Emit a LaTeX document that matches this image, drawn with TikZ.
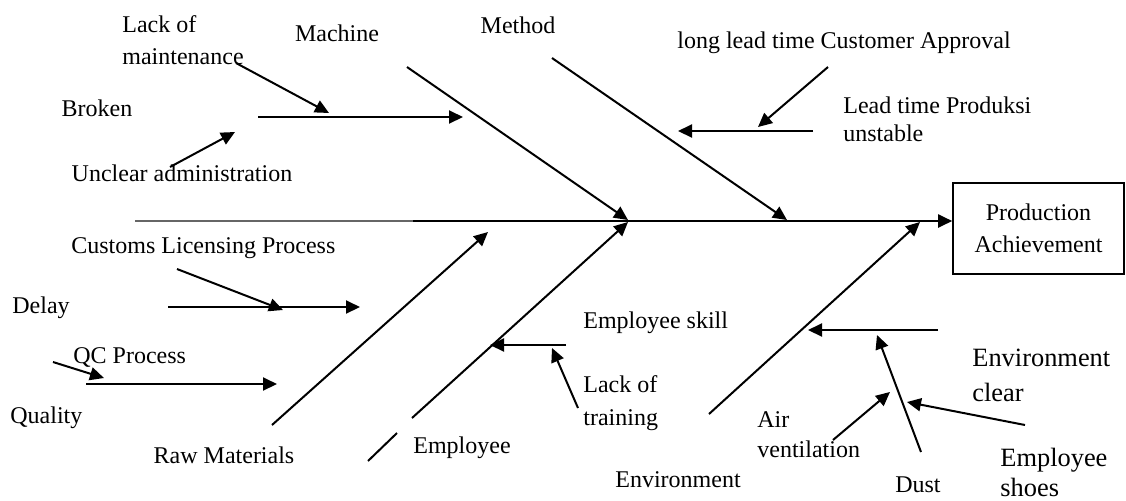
\documentclass[tikz,border=0pt]{standalone}
\usepackage{fontspec}
\setmainfont{Liberation Serif}
\usetikzlibrary{arrows.meta}
\begin{document}
\begin{tikzpicture}[x=0.5pt,y=-0.5pt,
  bone/.style={line width=1pt},
  arr/.style={line width=1pt,-{Triangle[length=7pt,width=6.5pt]}},
  lbl/.style={inner sep=0pt,font=\fontsize{12}{16}\selectfont,align=left},
  big/.style={inner sep=0pt,font=\fontsize{13.2}{17}\selectfont,align=left}]
\useasboundingbox (0,0) rectangle (1126,500);

% effect box
\node[draw,line width=0.8pt,minimum width=85.5pt,minimum height=45.5pt,inner sep=0pt,
      font=\fontsize{12}{16}\selectfont,align=center] (box) at (1038.5,228.5) {Production\\Achievement};

% labels
\node[lbl,anchor=west] (lom) at (122,40) {Lack of\\maintenance};
\node[lbl] (machine) at (337,33) {Machine};
\node[lbl] (broken) at (97,108) {Broken};
\node[lbl] (unclear) at (182,173) {Unclear administration};
\node[lbl] (method) at (518,25) {Method};
\node[lbl,anchor=west] (longlead) at (677,43) {long lead time Customer Approval};
\node[lbl,anchor=west,font=\fontsize{12}{14}\selectfont] (leadprod) at (843,119) {Lead time Produksi\\unstable};
\node[lbl,anchor=west] (customs) at (71,248) {Customs Licensing Process};
\node[lbl,anchor=west] (delay) at (12,308) {Delay};
\node[lbl,anchor=west] (qc) at (73,357) {QC Process};
\node[lbl,anchor=west] (quality) at (10,418) {Quality};
\node[lbl] (raw) at (224,455) {Raw Materials};
\node[lbl] (employee) at (462,448) {Employee};
\node[lbl,anchor=west] (empskill) at (583,323) {Employee skill};
\node[lbl,anchor=west,font=\fontsize{12}{16.5}\selectfont] (training) at (583,403.5) {Lack of\\training};
\node[lbl,anchor=west] (envlbl) at (615,480) {Environment};
\node[lbl,anchor=west,font=\fontsize{12}{15}\selectfont] (air) at (757,435) {Air\\ventilation};
\node[lbl] (dust) at (918,485) {Dust};
\node[big,anchor=west,font=\fontsize{13.2}{17.5}\selectfont] (envclear) at (972,375.5) {Environment\\clear};
\node[big,anchor=west,font=\fontsize{13.2}{15}\selectfont] (shoes) at (1000,472) {Employee\\shoes};

% spine
\coordinate (spA) at (135,221);
\coordinate (spB) at (425,221);
\coordinate (spC) at (413,221);
\draw[line width=0.6pt,gray!80!black] (spA) -- (spB);
\draw[arr] (spC) -- (spC -| box.west);

% main bones
\coordinate (mach0) at (407,67);   \coordinate (mach1) at (628,220);
\coordinate (meth0) at (552,58);   \coordinate (meth1) at (787,220);
\coordinate (raw0) at (272,425);   \coordinate (raw1) at (488,232);
\coordinate (emp0) at (368,461);   \coordinate (empg) at (397,433);
\coordinate (emp1) at (412,418);   \coordinate (emp2) at (628,222);
\coordinate (env0) at (709,414);   \coordinate (env1) at (920,222);
\draw[arr] (mach0) -- (mach1);
\draw[arr] (meth0) -- (meth1);
\draw[arr] (raw0) -- (raw1);
\draw[bone] (emp0) -- (empg);
\draw[arr] (emp1) -- (emp2);
\draw[arr] (env0) -- (env1);

% machine sub-causes
\coordinate (ms0) at (258,117); \coordinate (ms1) at (463,117);
\draw[arr] (ms0) -- (ms1);
\coordinate (lm0) at (236,63); \coordinate (lm1) at (329,113);
\draw[arr] (lm0) -- (lm1);
\coordinate (ua0) at (170,167); \coordinate (ua1) at (235,132);
\draw[arr] (ua0) -- (ua1);

% method sub-causes
\coordinate (mt0) at (813,131); \coordinate (mt1) at (678,131);
\draw[arr] (mt0) -- (mt1);
\coordinate (ll0) at (828,67); \coordinate (ll1) at (758,127);
\draw[arr] (ll0) -- (ll1);

% raw materials sub-causes
\coordinate (dl0) at (168,307); \coordinate (dl1) at (360,307);
\draw[arr] (dl0) -- (dl1);
\coordinate (cu0) at (177,269); \coordinate (cu1) at (283,310);
\draw[arr] (cu0) -- (cu1);
\coordinate (ql0) at (86,384); \coordinate (ql1) at (277,384);
\draw[arr] (ql0) -- (ql1);
\coordinate (qc0) at (53,362); \coordinate (qc1) at (104,378);
\draw[arr] (qc0) -- (qc1);

% employee sub-causes
\coordinate (es0) at (566,345); \coordinate (es1) at (490,345);
\draw[arr] (es0) -- (es1);
\coordinate (lt0) at (578,408); \coordinate (lt1) at (552,348);
\draw[arr] (lt0) -- (lt1);

% environment sub-causes
\coordinate (ec0) at (938,330); \coordinate (ec1) at (808,330);
\draw[arr] (ec0) -- (ec1);
\coordinate (du0) at (921,452); \coordinate (du1) at (877,335);
\draw[arr] (du0) -- (du1);
\coordinate (av0) at (833,440); \coordinate (av1) at (890,392);
\draw[arr] (av0) -- (av1);
\coordinate (sh0) at (1025,425); \coordinate (sh1) at (907,402);
\draw[arr] (sh0) -- (sh1);
\end{tikzpicture}
\end{document}
